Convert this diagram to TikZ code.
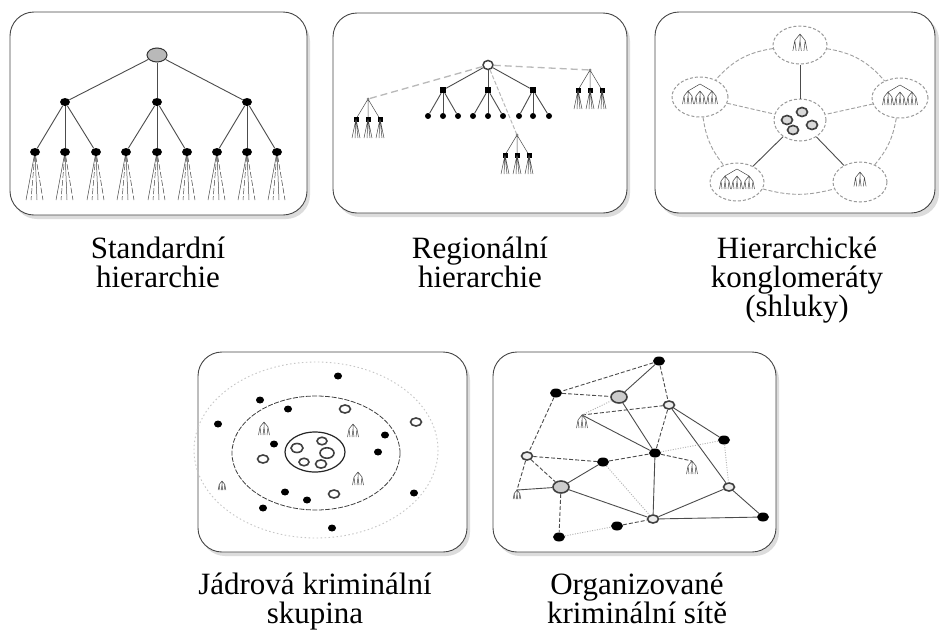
\documentclass[tikz,border=0pt]{standalone}
\usepackage{fontspec}
\setmainfont{Liberation Serif}
\usetikzlibrary{shapes.geometric}

\tikzset{
  panel/.style={draw=gray!55!black, line width=0.9pt, fill=white, rounded corners=24pt},
  boxshadow/.style={fill=gray!50, opacity=0.55, rounded corners=24pt},
  blk/.style={ellipse, fill=black, inner sep=0pt, minimum width=10pt, minimum height=8pt},
  sqr/.style={rectangle, fill=black, inner sep=0pt, minimum size=6pt},
  ring/.style={ellipse, draw=gray!50!black, fill=gray!15, line width=1.6pt, inner sep=0pt, minimum width=11pt, minimum height=8pt},
  bigring/.style={ring, minimum width=16pt, minimum height=12pt, fill=gray!40},
  rootnode/.style={ellipse, draw=gray!40!black, fill=gray!55, line width=1pt, minimum width=20pt, minimum height=14pt, inner sep=0pt},
  clus/.style={ellipse, draw=gray!80, dash pattern=on 3pt off 2pt, line width=1pt, inner sep=0pt},
  lnk/.style={draw=gray!60!black, line width=0.9pt},
  dlnk/.style={lnk, dash pattern=on 4pt off 2pt},
  olnk/.style={lnk, draw=gray!60, dash pattern=on 1pt off 1.5pt},
  fan/.style={draw=gray!55!black, line width=0.5pt},
  lbl/.style={font=\fontsize{31}{29}\selectfont, align=center, anchor=base, inner sep=0pt},
  minitree/.pic={
    \draw[fan] (0,0) -- (-4,5) (0,0) -- (0,5) (0,0) -- (4,5)
      (-4,5) -- (-5.5,13) (-4,5) -- (-3,13) (0,5) -- (-1,13)
      (0,5) -- (1,13) (4,5) -- (3,13) (4,5) -- (5.5,13);
  },
  subtree/.pic={
    \draw[fan] (0,0) -- (-12,20) (0,0) -- (0,20) (0,0) -- (12,20);
    \fill[gray] (0,0) circle (1.5);
    \foreach \c in {-12,0,12}{
      \fill (\c-2.5,17.5) rectangle ++(5,5);
      \draw[fan] (\c,20) -- ++(-4,19) (\c,20) -- ++(-1,19) (\c,20) -- ++(2,19) (\c,20) -- ++(4,19);
    }
  }
}

\begin{document}
\begin{tikzpicture}[x=1pt,y=-1pt]
\useasboundingbox (0,0) rectangle (939,635);

%%%%%%%%%%%%%%%%%%%%%%%%%%%%%%%%%%%%%%%%%%%%%%%%	RAMECKY
\fill[boxshadow] (13,17) rectangle (310,219);
\draw[panel] (10,12) rectangle (307,215);
\fill[boxshadow] (336,17) rectangle (630,217);
\draw[panel] (333,13) rectangle (627,213);
\fill[boxshadow] (658,16) rectangle (939,217);
\draw[panel] (655,12) rectangle (935,213);
\fill[boxshadow] (201,356) rectangle (470,556);
\draw[panel] (198,352) rectangle (467,552);
\fill[boxshadow] (496,356) rectangle (779,556);
\draw[panel] (493,352) rectangle (776,552);

%%%%%%%%%%%%%%%%%%%%%%%%%%%%%%%%%%%%%%%%%%%%%%%%	STANDARDNI HIERARCHIE
\node[rootnode] (r1) at (157,55) {};
\foreach \i/\x in {1/65,2/157,3/247} \node[blk] (a\i) at (\x,102) {};
\foreach \j/\x in {1/35,2/65,3/96,4/126,5/157,6/187,7/217,8/247,9/277}
  \node[blk] (b\j) at (\x,152) {};
\foreach \i in {1,2,3} \draw[lnk] (r1) -- (a\i);
\foreach \i/\j in {1/1,1/2,1/3,2/4,2/5,2/6,3/7,3/8,3/9} \draw[lnk] (a\i) -- (b\j);
\foreach \j in {1,...,9}{
  \draw[fan] (b\j) -- ++(-9,48) (b\j) -- ++(2,48);
  \draw[fan, dash pattern=on 6pt off 2pt] (b\j) -- ++(-4,48) (b\j) -- ++(8,48);
}

%%%%%%%%%%%%%%%%%%%%%%%%%%%%%%%%%%%%%%%%%%%%%%%%	REGIONALNI HIERARCHIE
\node[ring, minimum width=10pt, minimum height=9pt, line width=1.5pt, fill=white] (r2) at (488,65) {};
\foreach \i/\x in {1/443,2/488,3/533} \node[sqr] (m\i) at (\x,90) {};
\foreach \j/\x in {1/428,2/443,3/458,4/473,5/488,6/503,7/519,8/533,9/549}
  \node[blk, minimum width=6pt, minimum height=6pt] (n\j) at (\x,116) {};
\foreach \i in {1,2,3} \draw[lnk] (r2) -- (m\i);
\foreach \i/\j in {1/1,1/2,1/3,2/4,2/5,2/6,3/7,3/8,3/9} \draw[lnk] (m\i) -- (n\j);
\coordinate (sl) at (368,99);
\coordinate (sr) at (590,70);
\coordinate (sb) at (517,135);
\draw[dlnk, draw=gray!55, line width=1.3pt, dash pattern=on 7pt off 4pt] (r2) -- (sl);
\draw[dlnk, draw=gray!55, line width=1.3pt, dash pattern=on 7pt off 4pt] (r2) -- (sr);
\draw[dlnk, draw=gray!55, line width=1pt] (r2) -- (sb);
\pic at (sl) {subtree};
\pic at (sr) {subtree};
\pic at (sb) {subtree};

%%%%%%%%%%%%%%%%%%%%%%%%%%%%%%%%%%%%%%%%%%%%%%%%	KONGLOMERATY
\node[clus, minimum width=52pt, minimum height=42pt] (c0) at (800,120) {};
\foreach \x/\y in {787/120,802/112,812/125,793/130}
  \node[ring, minimum width=11pt, minimum height=9pt, fill=gray!30] at (\x,\y) {};
\node[clus, minimum width=54pt, minimum height=38pt] (ct) at (800,45) {};
\node[clus, minimum width=56pt, minimum height=40pt] (cl) at (700,97) {};
\node[clus, minimum width=56pt, minimum height=40pt] (cr) at (900,98) {};
\node[clus, minimum width=54pt, minimum height=38pt] (cbl) at (737,182) {};
\node[clus, minimum width=54pt, minimum height=40pt] (cbr) at (860,182) {};
\draw[lnk] (ct) -- (c0);
\draw[lnk] (cbl) -- (c0);
\draw[lnk] (cbr) -- (c0);
\draw[dlnk, draw=gray!75] (cl) -- (c0);
\draw[dlnk, draw=gray!75] (cr) -- (c0);
\draw[dlnk, draw=gray!75] (ct) to[bend right=20] (cl);
\draw[dlnk, draw=gray!75] (ct) to[bend left=20] (cr);
\draw[dlnk, draw=gray!75] (cl) to[bend right=15] (cbl);
\draw[dlnk, draw=gray!75] (cr) to[bend left=15] (cbr);
\draw[dlnk, draw=gray!75] (cbl) to[bend right=15] (cbr);
\pic[scale=1.3] at (800,34) {minitree};
\pic[scale=1.1] at (860,172) {minitree};
\foreach \x in {688,700,712} \pic at (\x,91) {minitree};
\foreach \x in {888,900,912} \pic at (\x,92) {minitree};
\foreach \x in {725,737,749} \pic at (\x,176) {minitree};
\draw[fan] (700,84) -- (688,91) (700,84) -- (712,91) (900,85) -- (888,92) (900,85) -- (912,92)
  (737,169) -- (725,176) (737,169) -- (749,176);

%%%%%%%%%%%%%%%%%%%%%%%%%%%%%%%%%%%%%%%%%%%%%%%%	JADROVA SKUPINA
\draw[gray!45, line width=0.9pt, dash pattern=on 1.5pt off 2.5pt] (316,450) ellipse (122 and 88);
\draw[gray!50!black, line width=0.8pt, dash pattern=on 5pt off 1.5pt] (316,453) ellipse (84 and 57);
\node[ellipse, draw=gray!30!black, line width=1.2pt, minimum width=60pt, minimum height=40pt] (core) at (315,452) {};
\foreach \x/\y/\w in {297/448/12,322/441/10,327/453/14,304/462/10,321/464/11}
  \node[ring, minimum width=\w pt, minimum height=0.75*\w pt, fill=white] at (\x,\y) {};
\foreach \x/\y in {338/376,260/400,288/409,218/424,274/444,385/435,378/452,285/492,307/500,263/508,414/493,332/528}
  \node[blk, minimum width=8pt, minimum height=7pt] at (\x,\y) {};
\foreach \x/\y in {345/409,416/422,263/459,334/494}
  \node[ring, minimum width=11pt, minimum height=8pt, fill=white] at (\x,\y) {};
\pic at (264,422) {minitree};
\pic at (353,424) {minitree};
\pic at (358,472) {minitree};
\pic[scale=0.7] at (222,481) {minitree};

%%%%%%%%%%%%%%%%%%%%%%%%%%%%%%%%%%%%%%%%%%%%%%%%	KRIMINALNI SITE
\node[blk, minimum width=12pt, minimum height=9pt] (A) at (659,361) {};
\node[blk, minimum width=12pt, minimum height=9pt] (B) at (556,393) {};
\node[bigring] (C) at (619,397) {};
\node[ring] (D) at (669,405) {};
\node[blk, minimum width=12pt, minimum height=9pt] (E) at (724,440) {};
\node[ring] (F) at (527,456) {};
\node[blk, minimum width=12pt, minimum height=9pt] (G) at (603,462) {};
\node[blk, minimum width=12pt, minimum height=9pt] (H) at (655,453) {};
\node[bigring] (I) at (561,487) {};
\node[ring] (J) at (729,487) {};
\node[ring] (K) at (653,519) {};
\node[blk, minimum width=12pt, minimum height=9pt] (L) at (763,517) {};
\node[blk, minimum width=12pt, minimum height=9pt] (M) at (617,526) {};
\node[blk, minimum width=12pt, minimum height=9pt] (N) at (559,537) {};
\coordinate (T1) at (582,415);
\coordinate (T2) at (692,461);
\coordinate (T3) at (517,490);
\pic at (T1) {minitree};
\pic at (T2) {minitree};
\pic[scale=0.7] at (T3) {minitree};
\draw[lnk] (A) -- (C);
\draw[lnk] (C) -- (H);
\draw[lnk] (T1) -- (H);
\draw[lnk] (D) -- (E);
\draw[lnk] (D) -- (J);
\draw[lnk] (G) -- (I);
\draw[lnk] (H) -- (K);
\draw[lnk] (I) -- (K);
\draw[lnk] (K) -- (J);
\draw[lnk] (K) -- (L);
\draw[lnk] (J) -- (L);
\draw[lnk] (I) -- (T3);
\draw[dlnk] (A) -- (B);
\draw[dlnk] (A) -- (D);
\draw[dlnk] (B) -- (C);
\draw[dlnk] (B) -- (F);
\draw[dlnk] (T1) -- (D);
\draw[dlnk] (D) -- (H);
\draw[dlnk] (F) -- (G);
\draw[dlnk] (G) -- (H);
\draw[dlnk] (F) -- (I);
\draw[dlnk] (F) -- (T3);
\draw[dlnk] (H) -- (T2);
\draw[dlnk] (I) -- (N);
\draw[dlnk] (M) -- (K);
\draw[olnk] (C) -- (T1);
\draw[olnk] (E) -- (J);
\draw[olnk] (E) -- (H);
\draw[olnk] (G) -- (K);
\draw[olnk] (N) -- (M);

%%%%%%%%%%%%%%%%%%%%%%%%%%%%%%%%%%%%%%%%%%%%%%%%	POPISKY
\node[lbl] (t1) at (158,287) {Standardní\\hierarchie};
\node[lbl] (t2) at (480,287) {Regionální\\hierarchie};
\node[lbl] (t3) at (797,316) {Hierarchické\\konglomeráty\\(shluky)};
\node[lbl] (t4) at (315,623) {Jádrová kriminální\\skupina};
\node[lbl] (t5) at (637,623) {Organizované\\kriminální sítě};

\end{tikzpicture}
\end{document}
